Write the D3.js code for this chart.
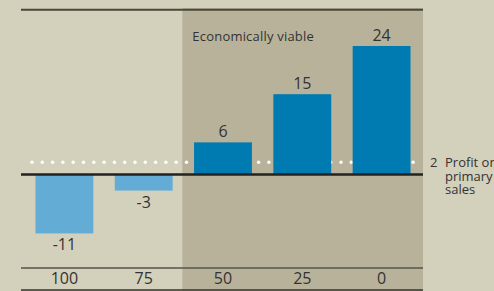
<!DOCTYPE html>
<html>
<head>
<meta charset="utf-8">
<script src="https://cdn.jsdelivr.net/npm/d3@7"></script>
<style>
  body { margin: 0; background: #d3d0bc; }
  svg { display: block; }
  text { font-family: "Open Sans", "Noto Sans", sans-serif; fill: #333; }
</style>
</head>
<body>
<div id="chart"></div>
<script>
var categories = ["100", "75", "50", "25", "0"];
var values = [-11, -3, 6, 15, 24];
var viable = ["50", "25", "0"];
var breakEven = 2;
var sideLabel = ["Profit on", "primary", "sales"];

var width = 494,
    height = 291;

var svg = d3.select("#chart").append("svg")
    .attr("width", width)
    .attr("height", height)

var x = d3.scaleBand()
    .domain(categories)
    .range([22, 424])
    .paddingInner(0.27)
    .paddingOuter(0.17)

var y = d3.scaleLinear()
    .domain([0, 24])
    .range([174.5, 46])

// shaded "economically viable" zone
var zoneLeft = x(viable[0]) - x.step() * x.paddingInner() / 2 - 1
svg.append("rect")
    .attr("x", zoneLeft)
    .attr("y", 8)
    .attr("width", 423 - zoneLeft)
    .attr("height", height - 8)
    .attr("fill", "#b9b29b")

svg.append("text")
    .attr("x", zoneLeft + 10)
    .attr("y", 41)
    .style("font-size", "13px")
    .style("letter-spacing", "0.2px")
    .text("Economically viable")

// top rule
svg.append("line")
    .attr("x1", 21).attr("x2", 423)
    .attr("y1", 9.8).attr("y2", 9.8)
    .attr("stroke", "#4a4838")
    .attr("stroke-width", 2)

// break-even dotted line
var dotY = y(breakEven) - 1.5
var dots = d3.range(32, 415, 10.3)
svg.selectAll(".dot")
    .data(dots)
    .enter()
    .append("circle")
    .attr("class", "dot")
    .attr("cx", function(d) { return d })
    .attr("cy", dotY)
    .attr("r", 1.7)
    .attr("fill", "#fff")

svg.append("text")
    .attr("x", 430)
    .attr("y", dotY + 4.5)
    .style("font-size", "13px")
    .text(breakEven)

svg.selectAll(".side")
    .data(sideLabel)
    .enter()
    .append("text")
    .attr("class", "side")
    .attr("x", 445)
    .attr("y", function(d, i) { return dotY + 4.5 + i * 13.8 })
    .style("font-size", "13px")
    .text(function(d) { return d })

// bars
svg.selectAll(".bar")
    .data(values)
    .enter()
    .append("rect")
    .attr("class", "bar")
    .attr("x", function(d, i) { return x(categories[i]) })
    .attr("width", x.bandwidth())
    .attr("y", function(d) { return d > 0 ? y(d) : y(0) })
    .attr("height", function(d) { return Math.abs(y(d) - y(0)) })
    .attr("fill", function(d) { return d > 0 ? "#007bb1" : "#62acd5" })

svg.selectAll(".val")
    .data(values)
    .enter()
    .append("text")
    .attr("class", "val")
    .attr("x", function(d, i) { return x(categories[i]) + x.bandwidth() / 2 })
    .attr("y", function(d) { return d > 0 ? y(d) - 5 : y(d) + 17 })
    .attr("text-anchor", "middle")
    .style("font-size", "16px")
    .text(function(d) { return d })

// zero line
svg.append("line")
    .attr("x1", 21).attr("x2", 423)
    .attr("y1", y(0)).attr("y2", y(0))
    .attr("stroke", "#222")
    .attr("stroke-width", 2.5)

// category axis
var axisG = svg.append("g")
    .attr("transform", "translate(0,268)")
axisG.call(d3.axisBottom(x).tickSize(0).tickPadding(0))
axisG.select(".domain").remove()
axisG.selectAll("text")
    .attr("dy", null)
    .attr("y", 16)
    .style("font-size", "16px")
    .style("font-family", "'Open Sans', 'Noto Sans', sans-serif")
    .attr("fill", "#333")

svg.append("line")
    .attr("x1", 21).attr("x2", 423)
    .attr("y1", 268).attr("y2", 268)
    .attr("stroke", "#55544a")
    .attr("stroke-width", 1.5)

svg.append("line")
    .attr("x1", 21).attr("x2", 423)
    .attr("y1", 290).attr("y2", 290)
    .attr("stroke", "#333")
    .attr("stroke-width", 1.5)
</script>
</body>
</html>
